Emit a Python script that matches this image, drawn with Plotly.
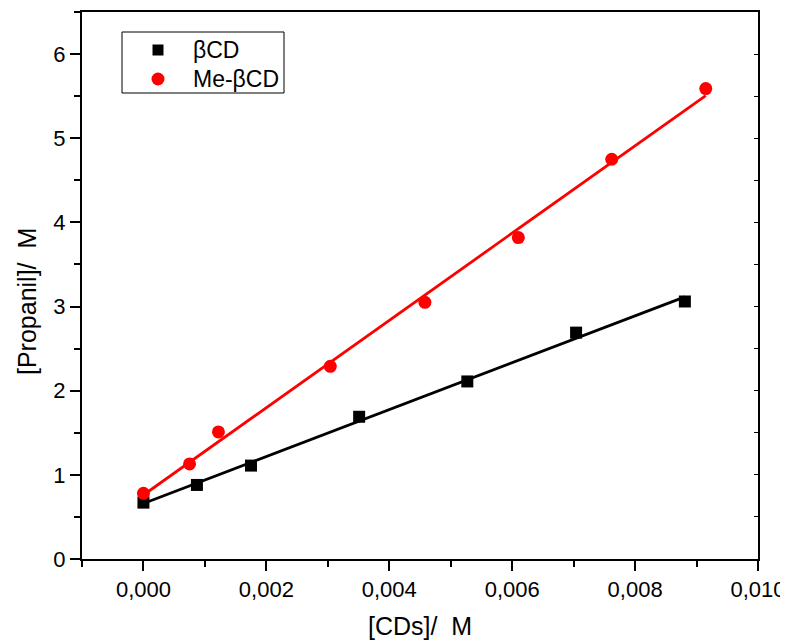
import numpy as np
import plotly.graph_objects as go

# beta-CD data
bcd_x = [0.0, 0.00087, 0.00175, 0.00351, 0.00527, 0.00704, 0.00881]
bcd_y = [0.67, 0.88, 1.11, 1.69, 2.11, 2.69, 3.06]

# Me-beta-CD data
me_x = [0.0, 0.00075, 0.00122, 0.00304, 0.00458, 0.0061, 0.00762, 0.00915]
me_y = [0.78, 1.13, 1.51, 2.29, 3.05, 3.82, 4.75, 5.59]

x_ticks = [0.0, 0.002, 0.004, 0.006, 0.008, 0.010]
y_ticks = [0, 1, 2, 3, 4, 5, 6]

FONT = "Liberation Sans, Arial, sans-serif"

# page offset (browser body margin) compensation
OFF = 8
W, H = 788, 640
PL, PR, PT, PB = 82, 758, 12, 559  # plot area in window pixels
pw, ph = PR - PL, PB - PT

def px(xp):  # window pixel -> paper fraction
    return (xp - PL) / pw

def py(yp):
    return (PB - yp) / ph

def fit(x, y):
    p = np.polyfit(x, y, 1)
    xs = np.array([min(x), max(x)])
    return xs, np.polyval(p, xs)

fig = go.Figure()

fx, fy = fit(bcd_x, bcd_y)
fig.add_trace(go.Scatter(x=fx, y=fy, mode="lines", line=dict(color="black", width=2.8),
                         showlegend=False, hoverinfo="skip"))
fx2, fy2 = fit(me_x, me_y)
fig.add_trace(go.Scatter(x=fx2, y=fy2, mode="lines", line=dict(color="#ff0000", width=2.8),
                         showlegend=False, hoverinfo="skip"))

fig.add_trace(go.Scatter(x=bcd_x, y=bcd_y, mode="markers", name="βCD", showlegend=False,
                         marker=dict(symbol="square", size=12, color="black")))
fig.add_trace(go.Scatter(x=me_x, y=me_y, mode="markers", name="Me-βCD", showlegend=False,
                         marker=dict(symbol="circle", size=13, color="#ff0000")))

# secondary axes (right inside ticks)
fig.add_trace(go.Scatter(x=[None], y=[None], xaxis="x2", yaxis="y2", showlegend=False))

# legend symbols on an overlay axis spanning the plot area [0,1]
fig.add_trace(go.Scatter(x=[px(158)], y=[py(50)], xaxis="x3", yaxis="y3", mode="markers",
                         marker=dict(symbol="square", size=11, color="black"),
                         showlegend=False, hoverinfo="skip"))
fig.add_trace(go.Scatter(x=[px(158)], y=[py(79)], xaxis="x3", yaxis="y3", mode="markers",
                         marker=dict(symbol="circle", size=13, color="#ff0000"),
                         showlegend=False, hoverinfo="skip"))

fig.update_layout(
    width=W, height=H,
    margin=dict(l=PL - OFF, r=W - (PR - OFF), t=PT - OFF, b=H - (PB - OFF), autoexpand=False),
    paper_bgcolor="white", plot_bgcolor="white",
    separators=", ",
    font=dict(family=FONT, size=22, color="black"),
    xaxis=dict(
        range=[-0.001, 0.010], tickvals=x_ticks, tickformat=".3f",
        ticks="outside", ticklen=10, tickwidth=2, tickcolor="black",
        minor=dict(ticks="outside", ticklen=6, tickwidth=2, dtick=0.001, tick0=0, tickcolor="black"),
        showline=True, linewidth=2, linecolor="black", mirror=True,
        showgrid=False, zeroline=False, automargin=False,
        tickfont=dict(size=22),
    ),
    yaxis=dict(
        range=[0, 6.5], tickvals=y_ticks,
        ticks="outside", ticklen=10, tickwidth=2, tickcolor="black",
        minor=dict(ticks="outside", ticklen=6, tickwidth=2, dtick=0.5, tick0=0, tickcolor="black"),
        showline=True, linewidth=2, linecolor="black", mirror=True,
        showgrid=False, zeroline=False, automargin=False,
        tickfont=dict(size=22),
    ),
    xaxis2=dict(overlaying="x", side="top", range=[-0.001, 0.010], showticklabels=False,
                ticks="", showgrid=False, zeroline=False, showline=False, automargin=False),
    yaxis2=dict(overlaying="y", side="right", range=[0, 6.5], showticklabels=False,
                ticks="inside", ticklen=4, tickwidth=1, tickcolor="black", dtick=0.5,
                showgrid=False, zeroline=False, showline=False, automargin=False),
    xaxis3=dict(overlaying="x", range=[0, 1], visible=False, automargin=False),
    yaxis3=dict(overlaying="y", range=[0, 1], visible=False, automargin=False),
    showlegend=False,
    shapes=[
        dict(type="rect", xref="paper", yref="paper",
             x0=px(122), x1=px(284), y0=py(93), y1=py(32),
             line=dict(color="black", width=1), fillcolor="white", layer="below"),
    ],
    annotations=[
        dict(text="βCD", xref="paper", yref="paper", x=px(191), y=py(50),
             xanchor="left", yanchor="middle", showarrow=False, font=dict(size=23)),
        dict(text="Me-βCD", xref="paper", yref="paper", x=px(191), y=py(79),
             xanchor="left", yanchor="middle", showarrow=False, font=dict(size=23)),
        dict(text="[CDs]/  M", xref="paper", yref="paper", x=px(420), y=py(626),
             xanchor="center", yanchor="middle", showarrow=False, font=dict(size=25)),
        dict(text="[Propanil]/  M", xref="paper", yref="paper", x=px(27), y=py(302),
             xanchor="center", yanchor="middle", showarrow=False, textangle=-90, font=dict(size=25)),
    ],
)

fig.write_html("out.html")
